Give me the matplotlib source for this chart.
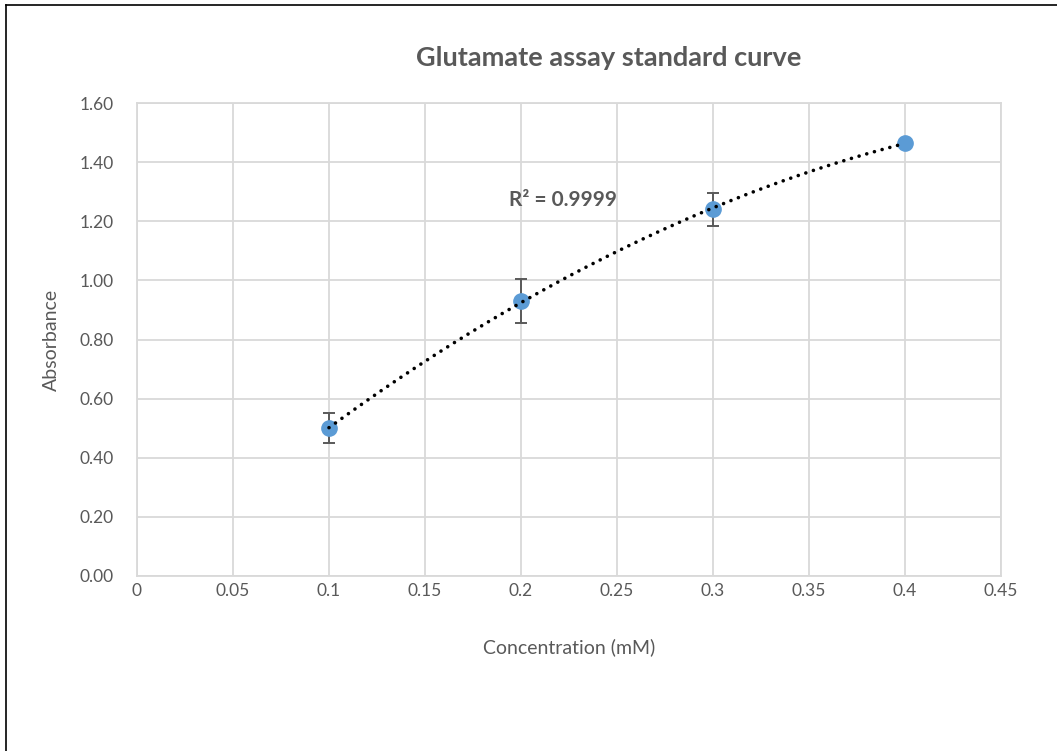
import numpy as np
import matplotlib.pyplot as plt
from matplotlib.lines import Line2D

# data
conc = [0.1, 0.2, 0.3, 0.4]
absorb = [0.50, 0.93, 1.24, 1.465]
err = [0.05, 0.075, 0.055, 0.01]

xticks = [0, 0.05, 0.1, 0.15, 0.2, 0.25, 0.3, 0.35, 0.4, 0.45]
xticklabels = ['0', '0.05', '0.1', '0.15', '0.2', '0.25', '0.3', '0.35', '0.4', '0.45']
yticks = [0.0, 0.2, 0.4, 0.6, 0.8, 1.0, 1.2, 1.4, 1.6]

txt = '#595959'
grid = '#d9d9d9'
plt.rcParams['font.family'] = ['Lato', 'DejaVu Sans']

fig = plt.figure(figsize=(10.57, 7.51), dpi=100)
ax = fig.add_axes([137/1057, 1-576/751, (1001-137)/1057, (576-103)/751])

# outer chart border (only left and top visible in the crop)
fig.add_artist(Line2D([6/1057, 6/1057], [0, 1-5/751], color='black', lw=1.2))
fig.add_artist(Line2D([6/1057, 1], [1-5/751, 1-5/751], color='black', lw=1.2))

# polynomial trendline, order 2
coef = np.polyfit(conc, absorb, 2)
xs = np.linspace(min(conc), max(conc), 200)
ax.plot(xs, np.polyval(coef, xs), color='black', lw=2.6,
        linestyle=(0, (0.01, 2.2)), dash_capstyle='round', zorder=4)

ax.errorbar(conc, absorb, yerr=err, fmt='o', color='#5b9bd5', ms=11,
            ecolor=txt, elinewidth=1.4, capsize=4.5, capthick=1.4, zorder=3)

ax.text(0.194, 1.272, 'R² = 0.9999', color=txt, fontsize=15, fontweight='bold',
        va='center', ha='left')

ax.set_xlim(0, 0.45)
ax.set_ylim(0, 1.6)
ax.set_xticks(xticks)
ax.set_xticklabels(xticklabels)
ax.set_yticks(yticks)
ax.set_yticklabels(['%.2f' % v for v in yticks])
ax.tick_params(length=0, labelsize=12.5, labelcolor=txt)
ax.tick_params(axis='y', pad=17)
ax.tick_params(axis='x', pad=5)
ax.grid(True, color=grid, lw=1.3)
ax.set_axisbelow(True)
for s in ax.spines.values():
    s.set_color(grid)
    s.set_linewidth(1.3)

ax.set_xlabel('Concentration (mM)', fontsize=14, color=txt, labelpad=28)
ax.set_ylabel('Absorbance', fontsize=14, color=txt, labelpad=14)
fig.text(609/1057, 1-58/751, 'Glutamate assay standard curve', fontsize=19.5,
         fontweight='bold', color=txt, ha='center', va='center')

fig.savefig('out.png', dpi=100)
